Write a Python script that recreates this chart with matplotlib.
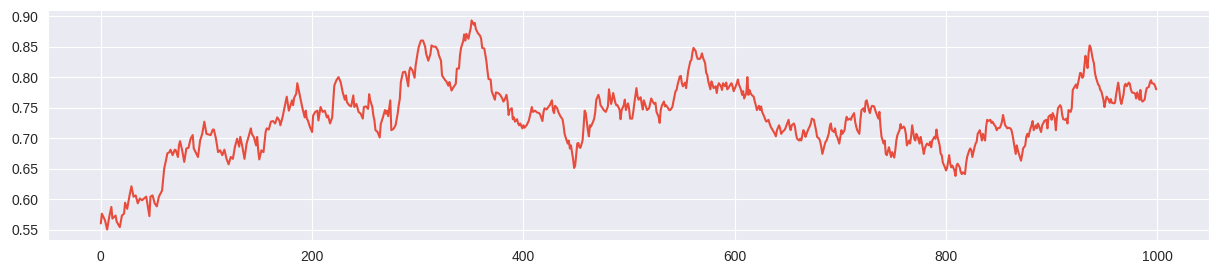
import matplotlib
matplotlib.use('Agg')
import matplotlib.pyplot as plt
import seaborn as sns

sns.set_style('darkgrid')
plt.rcParams['font.family'] = ['Liberation Sans', 'DejaVu Sans']

# step index and value
steps = [
    0, 1, 4, 6, 8, 10, 11, 14, 15, 18, 20, 22, 23, 25, 27, 29, 31, 33, 35, 37,
    39, 41, 43, 44, 46, 47, 49, 51, 53, 55, 58, 60, 62, 63, 65, 66, 68, 70, 71, 73,
    74, 75, 77, 79, 81, 83, 85, 87, 88, 90, 92, 94, 96, 98, 100, 102, 104, 106, 107, 109,
    111, 113, 115, 117, 119, 121, 123, 125, 127, 129, 131, 132, 134, 136, 138, 140, 142, 143, 145, 147,
    148, 149, 150, 152, 154, 156, 157, 159, 161, 163, 165, 167, 169,
    170, 172, 174, 176, 177, 178, 180, 181, 182, 183, 185, 186, 188, 190, 191, 193, 194, 195, 196, 198,
    200, 201, 203, 205, 206, 208, 210, 212, 214, 215, 217, 219, 221, 223, 225, 227, 229, 231, 232, 233,
    235, 237, 239, 240, 242, 244, 246, 248, 249, 251, 253, 254, 255, 257, 258, 259, 260, 262, 264, 265,
    267, 269, 270, 271, 272, 274, 275, 277, 279, 281, 282, 283, 284, 286, 288, 289, 291, 292, 293, 295,
    297, 298, 300, 301, 303, 305, 307, 308, 310, 312, 313, 315, 317, 319, 320, 322, 323, 324, 326, 327,
    329, 330, 331, 332, 334, 336, 337, 339, 340, 341, 343, 344, 345, 346, 348, 349, 350, 351, 353, 354,
    355, 357, 359,
    360, 361, 363, 365, 366, 367, 369, 370, 372, 373, 374, 376, 378, 380, 381, 382, 384, 385, 386, 387,
    389, 390, 391, 392, 394, 395, 396, 397, 399, 400, 401, 403, 405, 406, 408, 409, 411, 413, 415, 416,
    418, 419, 420, 422, 424, 425, 427, 428, 429, 430, 432, 433, 435, 437, 438, 439, 440, 442, 443, 444,
    445, 447, 448, 449, 451, 452, 453, 454, 456, 457, 458, 459, 461, 462, 463, 464, 466, 467, 468, 469,
    471, 472, 473, 475, 476, 478, 480, 481, 483, 484, 485, 487, 488, 489, 491, 492, 493, 495, 496, 497,
    499, 500, 501, 503, 504, 505, 507, 508, 509, 511, 512, 513, 514, 516, 517, 519, 520, 521, 523, 524,
    525, 526, 528, 529, 530, 531, 533, 534, 535, 537, 538,
    539, 541, 542, 544, 545, 546, 548, 549, 550, 551, 553, 554, 555, 556, 558, 559, 560, 561, 563, 564,
    565, 567, 568, 569, 570, 572, 573, 574, 575, 577, 578, 579, 580, 582, 583, 584, 585, 587, 588, 589,
    591, 592, 593, 594, 596, 597, 598, 599, 601, 602, 603, 604, 606, 607, 608, 609, 611, 612, 613, 614,
    615, 616, 618, 619, 620, 621, 623, 624, 625, 626, 628, 629, 630, 632, 633, 634, 635, 637, 638, 639,
    640, 642, 643, 644, 645, 647, 648, 649, 651, 652, 653, 654, 656, 657, 658, 659, 661, 662, 663, 665,
    666, 667, 668, 670, 671, 672, 673, 675, 676, 677, 678, 680, 681, 682, 683, 685, 686, 687, 689, 690,
    691, 692, 694, 695, 696, 697, 699, 700, 701, 702, 704, 705, 706, 707, 709, 710, 711, 713, 714, 715,
    716, 718,
    719, 720, 722, 723, 724, 725, 727, 728, 729, 730, 732, 733, 734, 736, 737, 738, 739, 741, 742, 743,
    744, 746, 747, 748, 749, 751, 752, 753, 754, 756, 757, 758, 760, 761, 762, 763, 765, 766, 767, 768,
    770, 771, 772, 773, 775, 776, 777, 779, 780, 781, 782, 784, 785, 786, 787, 789, 790, 791, 792, 794,
    795, 796, 797, 799, 800, 801, 803, 804, 805, 806, 808, 809, 810, 811, 813, 814, 815, 816, 818, 819,
    820, 822, 823, 824, 825, 827, 828, 829, 830, 832, 833, 834, 835, 837, 838, 839, 840, 842, 843, 844,
    846, 847, 848, 849, 851, 852, 853, 854, 856, 857, 858, 859, 861, 862, 863, 865, 866, 867, 868, 870,
    871, 872, 873, 875, 876, 877, 878, 880, 881, 882, 883, 885, 886, 887, 888, 890, 891, 892, 893, 895,
    896, 897,
    899, 900, 901, 903, 904, 905, 906, 908, 909, 910, 911, 913, 914, 915, 916, 918, 919, 920, 922, 923,
    924, 925, 927, 928, 929, 930, 932, 933, 934, 935, 936, 937, 939, 940, 941, 942, 944, 945, 946, 947,
    949, 950, 951, 952, 954, 955, 956, 957, 959, 960, 961, 963, 964, 965, 966, 968, 969, 970, 971, 973,
    974, 975, 976, 978, 979, 980, 981, 983, 984, 985, 986, 988, 989, 990, 992, 993, 994, 995, 997, 998,
    999,
]

values = [
    0.560, 0.576, 0.565, 0.550, 0.571, 0.587, 0.568, 0.573, 0.563, 0.554, 0.573, 0.576, 0.594, 0.584, 0.604, 0.621, 0.604, 0.606, 0.593, 0.601,
    0.598, 0.601, 0.604, 0.593, 0.572, 0.604, 0.606, 0.593, 0.588, 0.604, 0.614, 0.650, 0.666, 0.675, 0.677, 0.681, 0.672, 0.681, 0.680, 0.669,
    0.688, 0.695, 0.680, 0.661, 0.683, 0.684, 0.699, 0.705, 0.683, 0.676, 0.669, 0.696, 0.707, 0.727, 0.707, 0.706, 0.705, 0.714, 0.714, 0.699,
    0.677, 0.680, 0.672, 0.681, 0.666, 0.657, 0.669, 0.666, 0.686, 0.699, 0.686, 0.702, 0.686, 0.666, 0.691, 0.703, 0.716, 0.707, 0.701, 0.688,
    0.702, 0.680, 0.665, 0.680, 0.677, 0.710, 0.716, 0.714, 0.727, 0.728, 0.724, 0.734, 0.729,
    0.721, 0.734, 0.751, 0.768, 0.756, 0.745, 0.756, 0.762, 0.754, 0.766, 0.773, 0.790, 0.773, 0.756, 0.748, 0.734, 0.745, 0.732, 0.729, 0.718,
    0.710, 0.737, 0.743, 0.745, 0.729, 0.751, 0.743, 0.745, 0.734, 0.737, 0.724, 0.734, 0.786, 0.795, 0.800, 0.792, 0.775, 0.763, 0.770, 0.759,
    0.754, 0.752, 0.770, 0.751, 0.756, 0.743, 0.740, 0.732, 0.751, 0.752, 0.748, 0.772, 0.762, 0.751, 0.737, 0.729, 0.713, 0.710, 0.701, 0.723,
    0.734, 0.746, 0.740, 0.745, 0.736, 0.762, 0.713, 0.715, 0.721, 0.740, 0.754, 0.764, 0.792, 0.808, 0.809, 0.803, 0.785, 0.810, 0.816, 0.811,
    0.799, 0.819, 0.841, 0.850, 0.860, 0.860, 0.850, 0.838, 0.827, 0.838, 0.852, 0.850, 0.850, 0.844, 0.836, 0.827, 0.803, 0.800, 0.795, 0.793,
    0.786, 0.792, 0.785, 0.778, 0.784, 0.789, 0.814, 0.814, 0.836, 0.848, 0.859, 0.870, 0.860, 0.871, 0.863, 0.872, 0.879, 0.893, 0.886, 0.889,
    0.879, 0.872, 0.868,
    0.863, 0.848, 0.847, 0.826, 0.810, 0.797, 0.796, 0.777, 0.768, 0.763, 0.775, 0.774, 0.771, 0.765, 0.760, 0.762, 0.771, 0.760, 0.738, 0.746,
    0.749, 0.731, 0.734, 0.727, 0.731, 0.724, 0.721, 0.724, 0.716, 0.721, 0.717, 0.721, 0.728, 0.735, 0.751, 0.743, 0.745, 0.742, 0.741, 0.738,
    0.728, 0.742, 0.749, 0.747, 0.752, 0.754, 0.762, 0.746, 0.741, 0.753, 0.749, 0.743, 0.736, 0.731, 0.721, 0.707, 0.701, 0.691, 0.696, 0.683,
    0.688, 0.666, 0.651, 0.655, 0.691, 0.692, 0.685, 0.684, 0.696, 0.719, 0.745, 0.741, 0.713, 0.703, 0.721, 0.719, 0.727, 0.732, 0.743, 0.763,
    0.771, 0.765, 0.754, 0.749, 0.746, 0.743, 0.752, 0.780, 0.756, 0.763, 0.774, 0.758, 0.754, 0.754, 0.747, 0.731, 0.746, 0.754, 0.763, 0.746,
    0.757, 0.749, 0.732, 0.732, 0.743, 0.757, 0.782, 0.769, 0.763, 0.767, 0.756, 0.747, 0.762, 0.751, 0.746, 0.749, 0.757, 0.765, 0.758, 0.756,
    0.758, 0.743, 0.735, 0.725, 0.746, 0.753, 0.760, 0.752, 0.754, 0.749, 0.746,
    0.746, 0.751, 0.760, 0.777, 0.779, 0.788, 0.801, 0.802, 0.790, 0.785, 0.791, 0.782, 0.796, 0.810, 0.826, 0.828, 0.840, 0.848, 0.843, 0.835,
    0.830, 0.830, 0.833, 0.839, 0.832, 0.823, 0.807, 0.804, 0.793, 0.780, 0.793, 0.788, 0.782, 0.785, 0.774, 0.785, 0.790, 0.785, 0.779, 0.790,
    0.785, 0.791, 0.780, 0.782, 0.788, 0.790, 0.785, 0.777, 0.785, 0.790, 0.796, 0.788, 0.779, 0.771, 0.777, 0.765, 0.774, 0.800, 0.771, 0.779,
    0.774, 0.771, 0.768, 0.760, 0.754, 0.746, 0.753, 0.746, 0.752, 0.743, 0.735, 0.730, 0.727, 0.730, 0.724, 0.719, 0.716, 0.710, 0.707, 0.703,
    0.713, 0.721, 0.716, 0.707, 0.710, 0.713, 0.716, 0.721, 0.730, 0.719, 0.713, 0.721, 0.724, 0.719, 0.707, 0.699, 0.696, 0.699, 0.696, 0.713,
    0.710, 0.702, 0.707, 0.716, 0.719, 0.724, 0.732, 0.730, 0.721, 0.713, 0.702, 0.699, 0.694, 0.685, 0.674, 0.688, 0.694, 0.696, 0.707, 0.719,
    0.724, 0.713, 0.710, 0.716, 0.705, 0.702, 0.691, 0.702, 0.713, 0.707, 0.713, 0.727, 0.735, 0.730, 0.732, 0.730, 0.735, 0.741, 0.727, 0.719,
    0.713, 0.707,
    0.730, 0.746, 0.749, 0.743, 0.760, 0.762, 0.746, 0.741, 0.749, 0.753, 0.752, 0.746, 0.741, 0.732, 0.743, 0.719, 0.702, 0.691, 0.696, 0.674,
    0.672, 0.685, 0.677, 0.669, 0.677, 0.668, 0.680, 0.696, 0.705, 0.713, 0.723, 0.716, 0.719, 0.716, 0.707, 0.688, 0.696, 0.691, 0.703, 0.721,
    0.699, 0.696, 0.707, 0.703, 0.691, 0.702, 0.694, 0.674, 0.683, 0.688, 0.691, 0.688, 0.694, 0.685, 0.696, 0.702, 0.699, 0.714, 0.702, 0.688,
    0.674, 0.672, 0.660, 0.652, 0.647, 0.651, 0.672, 0.658, 0.652, 0.655, 0.647, 0.638, 0.655, 0.658, 0.652, 0.644, 0.641, 0.644, 0.641, 0.658,
    0.669, 0.680, 0.683, 0.680, 0.669, 0.685, 0.691, 0.694, 0.707, 0.713, 0.705, 0.696, 0.707, 0.696, 0.719, 0.730, 0.728, 0.730, 0.725, 0.727,
    0.721, 0.719, 0.713, 0.716, 0.717, 0.721, 0.727, 0.738, 0.721, 0.719, 0.716, 0.717, 0.716, 0.713, 0.705, 0.685, 0.674, 0.688, 0.680, 0.669,
    0.663, 0.672, 0.683, 0.688, 0.702, 0.707, 0.702, 0.716, 0.721, 0.728, 0.713, 0.721, 0.716, 0.724, 0.720, 0.710, 0.721, 0.724, 0.728, 0.730,
    0.716, 0.735,
    0.738, 0.730, 0.741, 0.732, 0.713, 0.735, 0.749, 0.754, 0.751, 0.738, 0.731, 0.730, 0.732, 0.724, 0.746, 0.743, 0.749, 0.779, 0.785, 0.788,
    0.782, 0.790, 0.807, 0.806, 0.799, 0.801, 0.835, 0.826, 0.815, 0.840, 0.852, 0.848, 0.829, 0.823, 0.807, 0.799, 0.788, 0.786, 0.779, 0.777,
    0.763, 0.751, 0.760, 0.768, 0.763, 0.758, 0.764, 0.758, 0.757, 0.758, 0.771, 0.791, 0.779, 0.763, 0.756, 0.771, 0.786, 0.789, 0.785, 0.791,
    0.789, 0.780, 0.775, 0.774, 0.773, 0.765, 0.775, 0.763, 0.779, 0.762, 0.760, 0.763, 0.774, 0.782, 0.784, 0.791, 0.795, 0.790, 0.789, 0.785,
    0.780,
]

fig, ax = plt.subplots(figsize=(12.19, 2.74), dpi=100)
fig.subplots_adjust(left=0.0394, right=0.9918, top=0.9635, bottom=0.1241)
ax.plot(steps, values, color='#e74c3c', linewidth=1.5)
ax.tick_params(labelsize=10)

plt.savefig('out.png', dpi=100, facecolor='white')
plt.close()
